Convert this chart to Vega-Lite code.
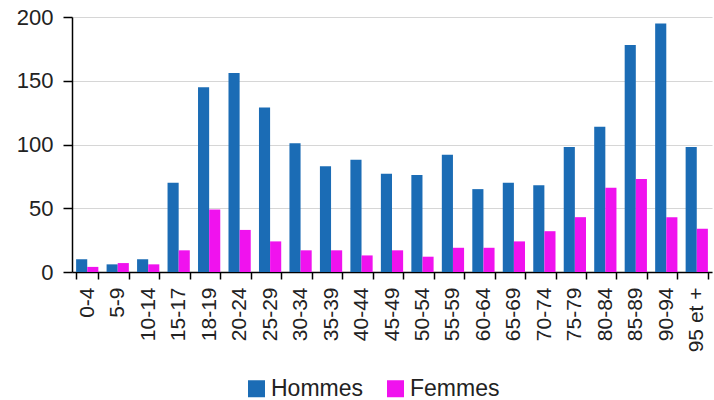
{
  "$schema": "https://vega.github.io/schema/vega-lite/v6.json",
  "width": 640,
  "height": 255,
  "autosize": {"type": "none"},
  "padding": {"left": 72, "top": 17, "right": 2, "bottom": 128},
  "background": "white",
  "config": {"view": {"stroke": null}, "font": "Liberation Sans"},
  "data": {
    "values": [
      {"age": "0-4", "sexe": "Hommes", "n": 10}, {"age": "0-4", "sexe": "Femmes", "n": 4},
      {"age": "5-9", "sexe": "Hommes", "n": 6}, {"age": "5-9", "sexe": "Femmes", "n": 7},
      {"age": "10-14", "sexe": "Hommes", "n": 10}, {"age": "10-14", "sexe": "Femmes", "n": 6},
      {"age": "15-17", "sexe": "Hommes", "n": 70}, {"age": "15-17", "sexe": "Femmes", "n": 17},
      {"age": "18-19", "sexe": "Hommes", "n": 145}, {"age": "18-19", "sexe": "Femmes", "n": 49},
      {"age": "20-24", "sexe": "Hommes", "n": 156}, {"age": "20-24", "sexe": "Femmes", "n": 33},
      {"age": "25-29", "sexe": "Hommes", "n": 129}, {"age": "25-29", "sexe": "Femmes", "n": 24},
      {"age": "30-34", "sexe": "Hommes", "n": 101}, {"age": "30-34", "sexe": "Femmes", "n": 17},
      {"age": "35-39", "sexe": "Hommes", "n": 83}, {"age": "35-39", "sexe": "Femmes", "n": 17},
      {"age": "40-44", "sexe": "Hommes", "n": 88}, {"age": "40-44", "sexe": "Femmes", "n": 13},
      {"age": "45-49", "sexe": "Hommes", "n": 77}, {"age": "45-49", "sexe": "Femmes", "n": 17},
      {"age": "50-54", "sexe": "Hommes", "n": 76}, {"age": "50-54", "sexe": "Femmes", "n": 12},
      {"age": "55-59", "sexe": "Hommes", "n": 92}, {"age": "55-59", "sexe": "Femmes", "n": 19},
      {"age": "60-64", "sexe": "Hommes", "n": 65}, {"age": "60-64", "sexe": "Femmes", "n": 19},
      {"age": "65-69", "sexe": "Hommes", "n": 70}, {"age": "65-69", "sexe": "Femmes", "n": 24},
      {"age": "70-74", "sexe": "Hommes", "n": 68}, {"age": "70-74", "sexe": "Femmes", "n": 32},
      {"age": "75-79", "sexe": "Hommes", "n": 98}, {"age": "75-79", "sexe": "Femmes", "n": 43},
      {"age": "80-84", "sexe": "Hommes", "n": 114}, {"age": "80-84", "sexe": "Femmes", "n": 66},
      {"age": "85-89", "sexe": "Hommes", "n": 178}, {"age": "85-89", "sexe": "Femmes", "n": 73},
      {"age": "90-94", "sexe": "Hommes", "n": 195}, {"age": "90-94", "sexe": "Femmes", "n": 43},
      {"age": "95 et +", "sexe": "Hommes", "n": 98}, {"age": "95 et +", "sexe": "Femmes", "n": 34}
    ]
  },
  "mark": {"type": "bar"},
  "encoding": {
    "x": {
      "field": "age", "type": "nominal", "sort": null,
      "scale": {"paddingInner": 0.27, "paddingOuter": 0.135},
      "axis": {
        "title": null, "labelAngle": -90, "labelFontSize": 21, "labelColor": "#222",
        "domainColor": "#000", "domainWidth": 1.5, "tickColor": "#000", "tickWidth": 1.5,
        "tickSize": 7, "tickBand": "extent", "labelPadding": 8
      }
    },
    "xOffset": {"field": "sexe", "type": "nominal", "sort": ["Hommes", "Femmes"]},
    "y": {
      "field": "n", "type": "quantitative",
      "scale": {"domain": [0, 200]},
      "axis": {
        "title": null, "values": [0, 50, 100, 150, 200], "labelFontSize": 22, "labelColor": "#222",
        "domainColor": "#000", "domainWidth": 1.5, "tickColor": "#000", "tickWidth": 1.5,
        "tickSize": 9, "labelPadding": 10, "gridColor": "#d6d6d6", "gridWidth": 1.2
      }
    },
    "color": {
      "field": "sexe", "type": "nominal",
      "scale": {"domain": ["Hommes", "Femmes"], "range": ["#1b6cb5", "#f012ee"]},
      "legend": {
        "title": null, "orient": "none", "legendX": 173, "legendY": 360, "direction": "horizontal",
        "symbolType": "square", "symbolSize": 289, "symbolStrokeWidth": 0, "symbolOpacity": 1,
        "labelFontSize": 23, "labelColor": "#222", "labelOffset": 3, "columnPadding": 20
      }
    }
  }
}
